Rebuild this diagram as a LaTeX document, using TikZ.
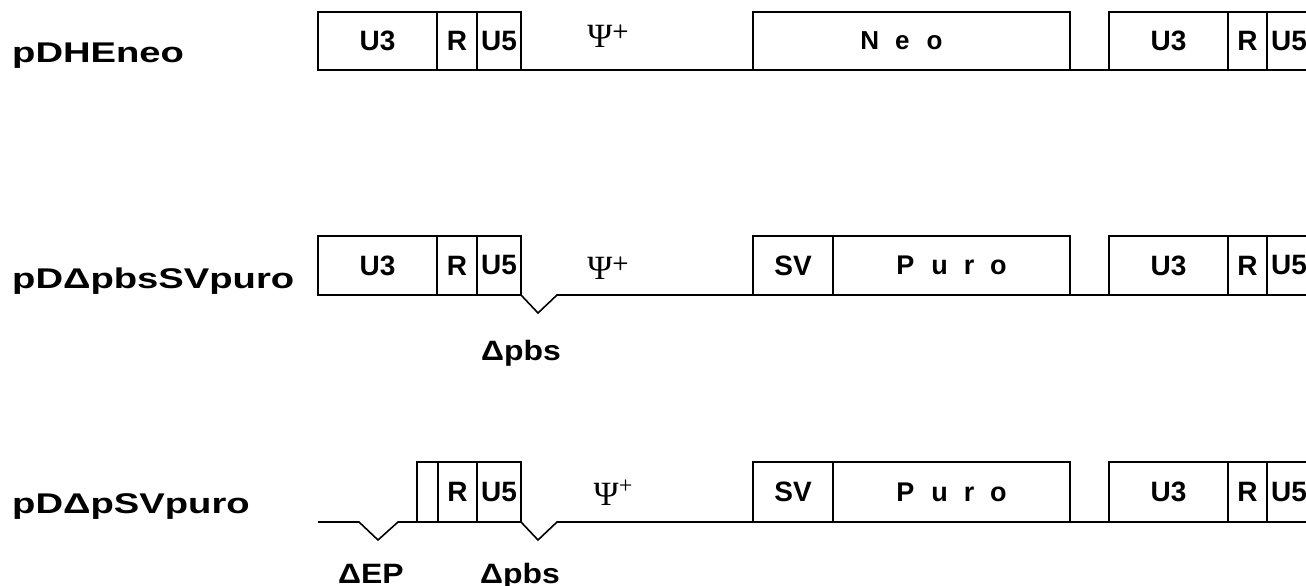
\documentclass[tikz,border=0pt]{standalone}
\usepackage{fontspec}
\setmainfont{Liberation Sans}
\newfontfamily\psifont{Liberation Serif}
\begin{document}
\begin{tikzpicture}[x=1pt,y=-1pt,
  seg/.style={draw, line width=1.5pt, rectangle, inner sep=0pt, outer sep=0pt,
              anchor=north west, font=\fontsize{28}{28}\selectfont\bfseries},
  bb/.style={line width=1.6pt},
  plabel/.style={anchor=base west, inner sep=0pt, font=\fontsize{28.5}{28.5}\selectfont\bfseries},
  del/.style={anchor=base, inner sep=0pt, font=\fontsize{28}{28}\selectfont\bfseries},
  psi/.style={inner sep=0pt, font=\fontsize{34}{34}\psifont}]
\clip (0,0) rectangle (1306,586);
\fill[white] (0,0) rectangle (1306,586);

% ---------- names ----------
\node[plabel] (n1) at (12,63)  {\scalebox{1.34}[1]{pDHEneo}};
\node[plabel] (n2) at (12,288) {\scalebox{1.34}[1]{pDΔpbsSVpuro}};
\node[plabel] (n3) at (12,513) {\scalebox{1.34}[1]{pDΔpSVpuro}};

% ---------- row 1 ----------
\node[seg, minimum width=119pt, minimum height=58pt] (a3)  at (318,12) {U3};
\node[seg, minimum width=40pt,  minimum height=58pt] (ar)  at (437,12) {R};
\node[seg, minimum width=44pt,  minimum height=58pt] (a5)  at (477,12) {U5};
\node[seg, minimum width=317pt, minimum height=58pt, font=\fontsize{26}{26}\selectfont\bfseries] (aneo) at (753,12)
  {N\hspace{16pt}e\hspace{17pt}o\hspace*{20pt}};
\node[seg, minimum width=119pt, minimum height=58pt] (b3)  at (1109,12) {U3};
\node[seg, minimum width=39pt,  minimum height=58pt] (br)  at (1228,12) {R};
\node[seg, minimum width=44pt,  minimum height=58pt] (b5)  at (1267,12) {U5};
\draw[bb] (a5.south east) -- (aneo.south west);
\draw[bb] (aneo.south east) -- (b3.south west);
\node[psi] (psi1) at (608,36) {Ψ\raisebox{11pt}{\fontsize{19}{19}\selectfont\bfseries\sffamily +}};

% ---------- row 2 ----------
\node[seg, minimum width=119pt, minimum height=59pt] (c3)  at (318,236) {U3};
\node[seg, minimum width=40pt,  minimum height=59pt] (cr)  at (437,236) {R};
\node[seg, minimum width=44pt,  minimum height=59pt] (c5)  at (477,236) {U5};
\node[seg, minimum width=80pt,  minimum height=59pt] (csv) at (753,236) {SV};
\node[seg, minimum width=237pt, minimum height=59pt, font=\fontsize{27}{27}\selectfont\bfseries] (cpu) at (833,236)
  {P\hspace{17pt}u\hspace{16pt}r\hspace{16pt}o};
\node[seg, minimum width=119pt, minimum height=59pt] (d3)  at (1109,236) {U3};
\node[seg, minimum width=39pt,  minimum height=59pt] (dr)  at (1228,236) {R};
\node[seg, minimum width=44pt,  minimum height=59pt] (d5)  at (1267,236) {U5};
\draw[bb] (c5.south east) -- ++(17,18) -- ++(19,-18) -- (csv.south west);
\draw[bb] (cpu.south east) -- (d3.south west);
\node[psi] (psi2) at (608,268) {Ψ\raisebox{11pt}{\fontsize{19}{19}\selectfont\bfseries\sffamily +}};
\node[del] (dp2) at (521,360) {\scalebox{1.14}[1]{Δpbs}};

% ---------- row 3 ----------
\node[seg, minimum width=21pt,  minimum height=60pt] (e0)  at (417,462) {};
\node[seg, minimum width=39pt,  minimum height=60pt] (er)  at (438,462) {R};
\node[seg, minimum width=44pt,  minimum height=60pt] (e5)  at (477,462) {U5};
\node[seg, minimum width=80pt,  minimum height=60pt] (esv) at (753,462) {SV};
\node[seg, minimum width=237pt, minimum height=60pt, font=\fontsize{27}{27}\selectfont\bfseries] (epu) at (833,462)
  {P\hspace{17pt}u\hspace{16pt}r\hspace{16pt}o};
\node[seg, minimum width=119pt, minimum height=60pt] (f3)  at (1109,462) {U3};
\node[seg, minimum width=39pt,  minimum height=60pt] (fr)  at (1228,462) {R};
\node[seg, minimum width=44pt,  minimum height=60pt] (f5)  at (1267,462) {U5};
\coordinate (start3) at (318,522);
\draw[bb] (start3) -- ++(41,0) -- ++(19,18) -- ++(20,-18) -- (e0.south west);
\draw[bb] (e5.south east) -- ++(17,18) -- ++(19,-18) -- (esv.south west);
\draw[bb] (epu.south east) -- (f3.south west);
\node[psi] (psi3) at (613,493) {Ψ\raisebox{12pt}{\fontsize{24}{24}\selectfont +}};
\node[del] (dep) at (371,583) {\scalebox{1.14}[1]{ΔEP}};
\node[del] (dp3) at (520,583) {\scalebox{1.14}[1]{Δpbs}};
\end{tikzpicture}
\end{document}
